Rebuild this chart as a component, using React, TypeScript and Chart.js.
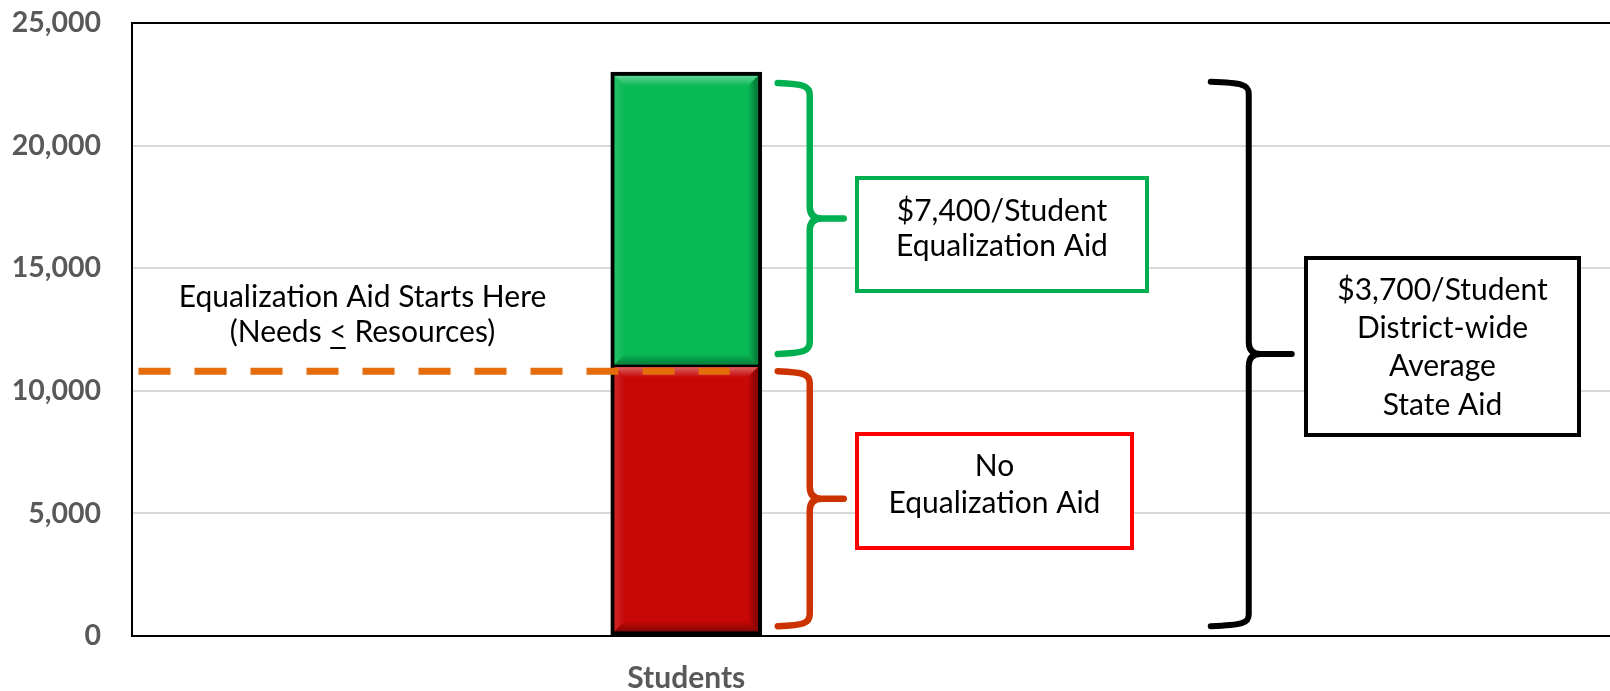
import React, { useEffect, useRef } from 'react';
import { Chart, registerables } from 'chart.js';

Chart.register(...registerables);

// ---- Data -----------------------------------------------------------------
const categories = ['', 'Students', '', ''];
const noAidValues = [null, 11000, null, null];
const equalizationValues = [null, 12000, null, null];
const yTickValues = [0, 5000, 10000, 15000, 20000, 25000];

// Level where equalization aid begins (needs <= resources)
const aidStartValue = 10800;

// Value spans covered by each brace
const equalizationBraceRange = [11500, 22550];
const noAidBraceRange = [400, 10800];
const averageBraceRange = [400, 22600];

// Annotation texts
const equalizationBoxLines = ['$7,400/Student', 'Equalization Aid'];
const noAidBoxLines = ['No', 'Equalization Aid'];
const averageBoxLines = ['$3,700/Student', 'District-wide', 'Average', 'State Aid'];
const aidStartNoteTitle = 'Equalization Aid Starts Here';
const aidStartNoteParts = ['(Needs ', '<', ' Resources)'];

// ---- Drawing helpers -------------------------------------------------------
const FONT = 'Lato, "Noto Sans", "DejaVu Sans", sans-serif';
const TEXT_SIZE = 30;

function drawBrace(
  ctx: CanvasRenderingContext2D,
  xEnd: number,
  xSpine: number,
  xTip: number,
  yTop: number,
  yBottom: number,
  color: string,
  width: number
) {
  const yMid = (yTop + yBottom) / 2;
  const r = 12;
  ctx.save();
  ctx.strokeStyle = color;
  ctx.lineWidth = width;
  ctx.lineCap = 'round';
  ctx.lineJoin = 'round';
  ctx.beginPath();
  ctx.moveTo(xEnd, yTop);
  ctx.bezierCurveTo(xSpine - 6, yTop + 1, xSpine, yTop + 3, xSpine, yTop + r);
  ctx.lineTo(xSpine, yMid - r);
  ctx.quadraticCurveTo(xSpine, yMid, xSpine + r, yMid);
  ctx.lineTo(xTip, yMid);
  ctx.moveTo(xSpine + r, yMid);
  ctx.quadraticCurveTo(xSpine, yMid, xSpine, yMid + r);
  ctx.lineTo(xSpine, yBottom - r);
  ctx.bezierCurveTo(xSpine, yBottom - 3, xSpine - 6, yBottom - 1, xEnd, yBottom);
  ctx.stroke();
  ctx.restore();
}

function drawTextBox(
  ctx: CanvasRenderingContext2D,
  left: number,
  top: number,
  right: number,
  bottom: number,
  color: string,
  lines: string[],
  baselines: number[]
) {
  ctx.save();
  ctx.strokeStyle = color;
  ctx.lineWidth = 4;
  ctx.fillStyle = '#ffffff';
  ctx.fillRect(left, top, right - left, bottom - top);
  ctx.strokeRect(left, top, right - left, bottom - top);
  ctx.fillStyle = '#000000';
  ctx.font = `${TEXT_SIZE}px ${FONT}`;
  ctx.textAlign = 'center';
  ctx.textBaseline = 'alphabetic';
  const cx = (left + right) / 2;
  lines.forEach((line, i) => ctx.fillText(line, cx, baselines[i]));
  ctx.restore();
}

function drawBevel(ctx: CanvasRenderingContext2D, l: number, t: number, r: number, b: number) {
  const s = 10;
  const quad = (pts: number[][], style: CanvasGradient) => {
    ctx.beginPath();
    ctx.moveTo(pts[0][0], pts[0][1]);
    for (let i = 1; i < pts.length; i++) ctx.lineTo(pts[i][0], pts[i][1]);
    ctx.closePath();
    ctx.fillStyle = style;
    ctx.fill();
  };
  let g = ctx.createLinearGradient(0, t, 0, t + s);
  g.addColorStop(0, 'rgba(255,255,255,0.36)');
  g.addColorStop(1, 'rgba(255,255,255,0)');
  quad([[l, t], [r, t], [r - s, t + s], [l + s, t + s]], g);
  g = ctx.createLinearGradient(l, 0, l + s, 0);
  g.addColorStop(0, 'rgba(255,255,255,0.12)');
  g.addColorStop(1, 'rgba(255,255,255,0)');
  quad([[l, t], [l + s, t + s], [l + s, b - s], [l, b]], g);
  g = ctx.createLinearGradient(r, 0, r - s, 0);
  g.addColorStop(0, 'rgba(0,0,0,0.38)');
  g.addColorStop(1, 'rgba(0,0,0,0)');
  quad([[r, t], [r, b], [r - s, b - s], [r - s, t + s]], g);
  g = ctx.createLinearGradient(0, b, 0, b - s);
  g.addColorStop(0, 'rgba(0,0,0,0.32)');
  g.addColorStop(1, 'rgba(0,0,0,0)');
  quad([[l, b], [r, b], [r - s, b - s], [l + s, b - s]], g);
}

const annotationPlugin = {
  id: 'aidAnnotations',
  afterDatasetsDraw(chart: any) {
    const ctx: CanvasRenderingContext2D = chart.ctx;
    const area = chart.chartArea;
    const y = chart.scales.y;

    // Bevel shading on each bar segment
    let barRight = 0;
    chart.data.datasets.forEach((ds: any, di: number) => {
      const meta = chart.getDatasetMeta(di);
      meta.data.forEach((el: any, i: number) => {
        if (ds.data[i] == null) return;
        const p = el.getProps(['x', 'y', 'base', 'width'], true);
        const bw = ds.borderWidth;
        const l = p.x - p.width / 2 + bw.left;
        const r = p.x + p.width / 2 - bw.right;
        const t = Math.min(p.y, p.base) + bw.top;
        const b = Math.max(p.y, p.base) - bw.bottom;
        barRight = p.x + p.width / 2;
        ctx.save();
        drawBevel(ctx, l, t, r, b);
        ctx.restore();
      });
    });

    // Top frame line of the plot area
    ctx.save();
    ctx.strokeStyle = '#000';
    ctx.lineWidth = 2;
    ctx.beginPath();
    ctx.moveTo(area.left - 1, area.top);
    ctx.lineTo(area.right, area.top);
    ctx.stroke();
    ctx.restore();

    // Dashed threshold line
    const yStart = y.getPixelForValue(aidStartValue);
    ctx.save();
    ctx.strokeStyle = '#e46c0a';
    ctx.lineWidth = 7;
    ctx.setLineDash([32, 24]);
    ctx.beginPath();
    ctx.moveTo(area.left + 6.5, yStart);
    ctx.lineTo(barRight - 32, yStart);
    ctx.stroke();
    ctx.restore();

    // Threshold note
    ctx.save();
    ctx.fillStyle = '#000';
    ctx.font = `${TEXT_SIZE}px ${FONT}`;
    ctx.textBaseline = 'alphabetic';
    ctx.textAlign = 'center';
    const noteX = 362.5;
    ctx.fillText(aidStartNoteTitle, noteX, 306.5);
    const widths = aidStartNoteParts.map((s) => ctx.measureText(s).width);
    const total = widths.reduce((a, w) => a + w, 0);
    let x = noteX - total / 2;
    ctx.textAlign = 'left';
    aidStartNoteParts.forEach((s, i) => {
      ctx.fillText(s, x, 341.5);
      if (i === 1) ctx.fillRect(x + 1, 347, widths[i] - 2, 2);
      x += widths[i];
    });
    ctx.restore();

    // Braces
    drawBrace(
      ctx, barRight + 16, barRight + 48, barRight + 82,
      y.getPixelForValue(equalizationBraceRange[1]), y.getPixelForValue(equalizationBraceRange[0]),
      '#00b050', 6.5
    );
    drawBrace(
      ctx, barRight + 16, barRight + 48, barRight + 82,
      y.getPixelForValue(noAidBraceRange[1]), y.getPixelForValue(noAidBraceRange[0]),
      '#cc3300', 6.5
    );
    drawBrace(
      ctx, barRight + 449, barRight + 487, barRight + 530,
      y.getPixelForValue(averageBraceRange[1]), y.getPixelForValue(averageBraceRange[0]),
      '#000000', 6
    );

    // Text boxes
    drawTextBox(ctx, 857, 178, 1147, 291, '#00b050', equalizationBoxLines, [221, 255.5]);
    drawTextBox(ctx, 857, 434, 1132, 548, '#ff0000', noAidBoxLines, [475.5, 513]);
    drawTextBox(ctx, 1306, 258, 1579, 435, '#000000', averageBoxLines, [300, 338, 376, 414.5]);
  },
};

export default function App() {
  const canvasRef = useRef<HTMLCanvasElement | null>(null);

  useEffect(() => {
    document.body.style.margin = '0';
    const canvas = canvasRef.current;
    if (!canvas) return;
    const chart = new Chart(canvas, {
      type: 'bar',
      data: {
        labels: categories,
        datasets: [
          {
            label: 'No Equalization Aid',
            data: noAidValues,
            backgroundColor: '#c80707',
            borderColor: '#000000',
            borderWidth: { top: 1, left: 4, right: 4, bottom: 4 },
            borderSkipped: false,
            barThickness: 151,
          },
          {
            label: 'Equalization Aid',
            data: equalizationValues,
            backgroundColor: '#08b955',
            borderColor: '#000000',
            borderWidth: { top: 4, left: 4, right: 4, bottom: 2 },
            borderSkipped: false,
            barThickness: 151,
          },
        ],
      },
      options: {
        responsive: false,
        animation: false,
        devicePixelRatio: 1,
        layout: { padding: { top: 23, left: 0, right: 0, bottom: 0 } },
        plugins: { legend: { display: false }, tooltip: { enabled: false } },
        scales: {
          x: {
            stacked: true,
            grid: { display: false, drawTicks: false },
            border: { display: true, color: '#000000', width: 2 },
            ticks: {
              color: '#595959',
              font: { family: FONT, size: 30, weight: 'bold' },
              padding: 24,
              autoSkip: false,
              maxRotation: 0,
            },
            afterFit: (s: any) => {
              s.height = 55;
              s.paddingLeft = 0;
              s.paddingRight = 0;
            },
          },
          y: {
            stacked: true,
            min: 0,
            max: 25000,
            afterBuildTicks: (s: any) => {
              s.ticks = yTickValues.map((v) => ({ value: v }));
            },
            ticks: {
              color: '#595959',
              font: { family: FONT, size: 28.5, weight: 'bold' },
              padding: 31,
              callback: (v: any) => Number(v).toLocaleString('en-US'),
            },
            grid: { color: '#d9d9d9', lineWidth: 2, drawTicks: false },
            border: { display: true, color: '#000000', width: 2 },
            afterFit: (s: any) => {
              s.width = 132;
              s.paddingTop = 0;
              s.paddingBottom = 0;
            },
          },
        },
      },
      plugins: [annotationPlugin],
    });
    return () => chart.destroy();
  }, []);

  return (
    <canvas
      ref={canvasRef}
      width={1610}
      height={691}
      style={{ display: 'block', width: '1610px', height: '691px' }}
    />
  );
}
